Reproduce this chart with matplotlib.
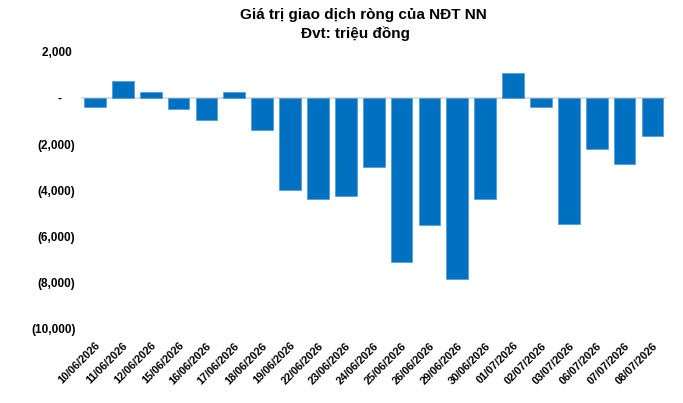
import matplotlib.pyplot as plt

plt.rcParams["font.family"] = ["Liberation Sans", "DejaVu Sans"]
plt.rcParams["font.weight"] = "bold"

# Daily net trading value of foreign investors (million VND)
dates = [
    "10/06/2026", "11/06/2026", "12/06/2026", "15/06/2026", "16/06/2026",
    "17/06/2026", "18/06/2026", "19/06/2026", "22/06/2026", "23/06/2026",
    "24/06/2026", "25/06/2026", "26/06/2026", "29/06/2026", "30/06/2026",
    "01/07/2026", "02/07/2026", "03/07/2026", "06/07/2026", "07/07/2026",
    "08/07/2026",
]
net_value = [
    -410, 740, 260, -480, -950,
    250, -1400, -4000, -4390, -4240,
    -3010, -7150, -5540, -7870, -4370,
    1090, -410, -5480, -2230, -2850,
    -1660,
]
y_ticks = [2000, 0, -2000, -4000, -6000, -8000, -10000]


def acct_fmt(v):
    # accounting style: negatives in brackets, zero shown as a dash
    if v == 0:
        return "-    "
    if v < 0:
        return f"({abs(v):,})"
    return f"{v:,} "


fig, ax = plt.subplots(figsize=(6.83, 4.03), dpi=100)
fig.subplots_adjust(left=0.1186, right=0.9757, top=0.871, bottom=0.186)

x = range(len(dates))
ax.bar(x, net_value, width=0.78, color="#0070C0", edgecolor="#4A9ADA",
       linewidth=0.5, zorder=2)
ax.axhline(0, color="#D9D9D9", linewidth=1.2, zorder=1)

ax.set_xlim(-0.5, len(dates) - 0.5)
ax.set_ylim(-10000, 2000)
ax.set_yticks(y_ticks)
ax.set_yticklabels([acct_fmt(v) for v in y_ticks], fontsize=8.5, fontweight="bold")
ax.set_xticks(list(x))
ax.set_xticklabels(dates, rotation=45, ha="right", rotation_mode="anchor",
                   fontsize=7.8, fontweight="bold")
ax.tick_params(axis="both", length=0)
ax.tick_params(axis="y", pad=4)
ax.tick_params(axis="x", pad=9)
for s in ax.spines.values():
    s.set_visible(False)

fig.text(0.532, 0.962, "Giá trị giao dịch ròng của NĐT NN", ha="center",
         va="center", fontsize=11, fontweight="bold")
fig.text(0.52, 0.917, "Đvt: triệu đồng", ha="center", va="center",
         fontsize=11, fontweight="bold")

plt.savefig("out.png", dpi=100)
